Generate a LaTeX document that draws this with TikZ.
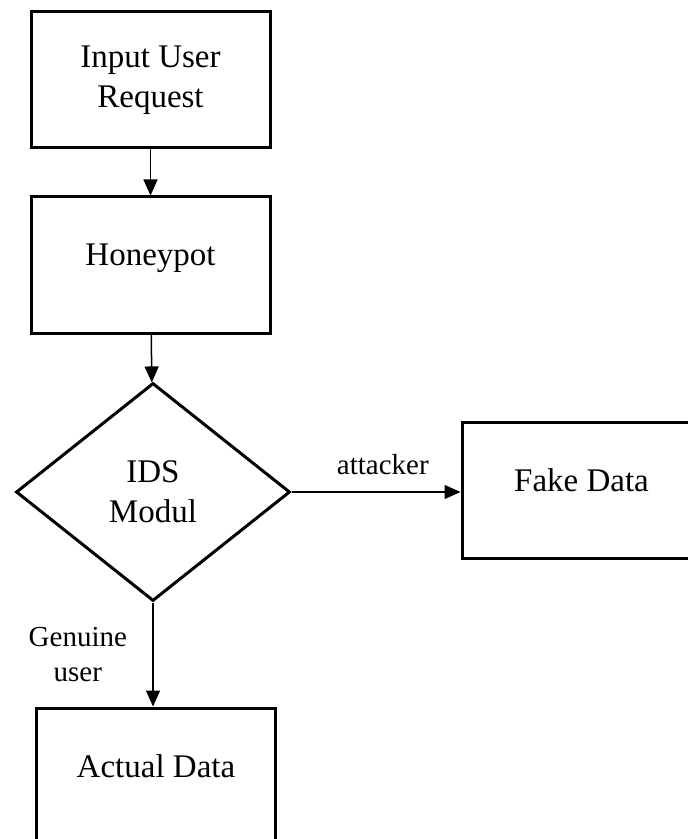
\documentclass[tikz,border=0pt]{standalone}
\usepackage{fontspec}
\setmainfont{Liberation Serif}
\usetikzlibrary{
        arrows.meta,
        positioning,
        shapes.geometric
    }
\tikzset{>={Triangle[width=7pt,length=8pt]}}
\tikzset{
  block/.style={draw, line width=1.5pt, minimum width=119.5pt, minimum height=68pt,
    inner sep=0pt, align=center, font=\fontsize{16.5}{20}\selectfont},
  lift/.style={text height=11pt, text depth=10pt},
  decision/.style={draw, diamond, line width=1.5pt, minimum width=137pt, minimum height=109pt,
    aspect=1.26, inner sep=0pt, align=center, font=\fontsize{16.5}{20}\selectfont},
  flow/.style={->, line width=0.75pt},
  tag/.style={font=\fontsize{14.5}{17.5}\selectfont, align=center}
}

\begin{document}
\begin{tikzpicture}[x=0.5pt,y=-0.5pt]
        \useasboundingbox (0,0) rectangle (688,839);
        \node[block] (input) at (150.5,80) {Input User\\Request};
        \node[block,lift] (honey) [below=23pt of input] {Honeypot};
        \node[decision] (ids) [below=23.5pt of honey, xshift=1.25pt] {IDS\\Modul};
        \node[block,lift] (fake) [right=84.5pt of ids, yshift=1pt] {Fake Data};
        \node[block,lift] (actual) [below=52pt of ids, xshift=1.5pt] {Actual Data};
        \draw[flow] (input) -- (honey);
        \draw[flow] (honey) -- (ids);
        \draw[flow] (ids.east) -- node[tag, above=5pt, pos=0.54] {attacker} (ids.east -| fake.west);
        \draw[flow] (ids.south) -- node[tag, left=9.3pt] {Genuine\\user} (ids.south |- actual.north);
\end{tikzpicture}
\end{document}
